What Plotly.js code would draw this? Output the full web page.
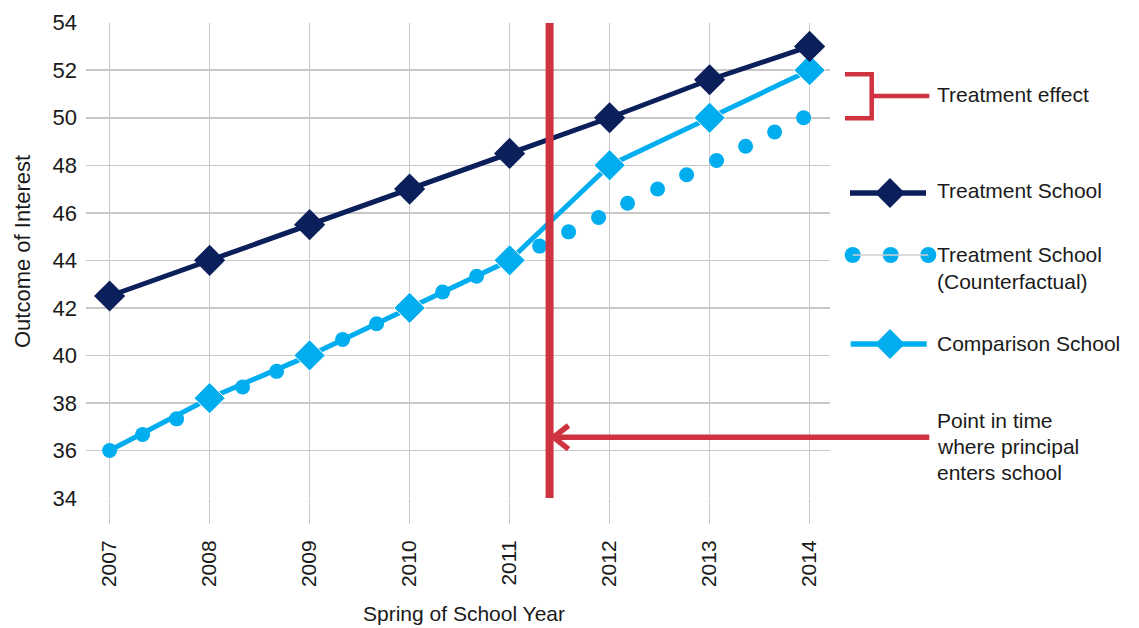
<!DOCTYPE html>
<html>
<head>
<meta charset="utf-8">
<script src="https://cdn.plot.ly/plotly-3.0.1.min.js"></script>
<style>html,body{margin:0;padding:0;background:#fff;}#chart{width:1139px;height:628px;}</style>
</head>
<body>
<div id="chart"></div>
<script>
// ---- data ----
const years = [2007, 2008, 2009, 2010, 2011, 2012, 2013, 2014];
const yearLabels = ['2007', '2008', '2009', '2010', '2011', '2012', '2013', '2014'];
const treatmentSchool = [42.5, 44, 45.5, 47, 48.5, 50, 51.6, 53];
const comparisonSchool = [36, 38.2, 40, 42, 44, 48, 50, 52];
const counterfactualYears = [2007, 2007.33, 2007.67, 2008, 2008.33, 2008.67, 2009, 2009.33, 2009.67,
  2010, 2010.33, 2010.67, 2011, 2011.3, 2011.59, 2011.89, 2012.18, 2012.48, 2012.77, 2013.07,
  2013.36, 2013.65, 2013.94];
const counterfactualValues = [36, 36.67, 37.33, 38, 38.67, 39.33, 40, 40.67, 41.33,
  42, 42.67, 43.33, 44, 44.6, 45.2, 45.8, 46.4, 47.0, 47.6, 48.2,
  48.8, 49.4, 50.0];
const yTicks = [34, 36, 38, 40, 42, 44, 46, 48, 50, 52, 54];
const principalEntry = 2011.4;
const labels = {
  treat: 'Treatment School',
  cf1: 'Treatment School',
  cf2: '(Counterfactual)',
  comp: 'Comparison School',
  effect: 'Treatment effect',
  point: ['Point in time', 'where principal', 'enters school'],
  xTitle: 'Spring of School Year',
  yTitle: 'Outcome of Interest'
};

// ---- styling / geometry ----
const W = 1139, H = 628;
const L = 86, R = 830, T = 22.7, B = 498;
const x2007px = 109.6, pxPerYear = 100;
const NAVY = '#0b1f5a', CYAN = '#00aeef', RED = '#cf3340', GRID = '#c8c8c8', TXT = '#1a1a1a';
const NARROW = 'Liberation Sans, Arial, sans-serif';
const REG = 'Liberation Sans, Arial, sans-serif';

const traces = [
  {
    x: counterfactualYears, y: counterfactualValues, type: 'scatter', mode: 'markers',
    marker: { color: CYAN, size: 15, symbol: 'circle', opacity: 1 }, xaxis: 'x', yaxis: 'y',
    cliponaxis: false, hoverinfo: 'skip'
  },
  {
    x: years, y: comparisonSchool, type: 'scatter', mode: 'lines+markers',
    line: { color: CYAN, width: 5 },
    marker: { color: CYAN, size: years.map((v, i) => i === 0 ? 0 : 24), symbol: 'diamond', opacity: 1 },
    xaxis: 'x', yaxis: 'y', cliponaxis: false, hoverinfo: 'skip'
  },
  {
    x: years, y: treatmentSchool, type: 'scatter', mode: 'lines+markers',
    line: { color: NAVY, width: 5 },
    marker: { color: NAVY, size: 24, symbol: 'diamond', opacity: 1 },
    xaxis: 'x', yaxis: 'y', cliponaxis: false, hoverinfo: 'skip'
  },
  // legend samples (pixel space overlay)
  {
    x: [890], y: [193], type: 'scatter', mode: 'markers',
    marker: { color: NAVY, size: 23, symbol: 'diamond', opacity: 1 }, xaxis: 'x2', yaxis: 'y2', hoverinfo: 'skip', cliponaxis: false
  },
  {
    x: [852.7, 890.7, 928.3], y: [255, 255, 255], type: 'scatter', mode: 'markers',
    marker: { color: CYAN, size: 16, symbol: 'circle', opacity: 1 }, xaxis: 'x2', yaxis: 'y2', hoverinfo: 'skip', cliponaxis: false
  },
  {
    x: [890], y: [344], type: 'scatter', mode: 'markers',
    marker: { color: CYAN, size: 23, symbol: 'diamond', opacity: 1 }, xaxis: 'x2', yaxis: 'y2', hoverinfo: 'skip', cliponaxis: false
  }
];

function pxLine(x0, y0, x1, y1, color, width) {
  return { type: 'line', xref: 'x2', yref: 'y2', x0, y0, x1, y1, line: { color, width }, layer: 'above' };
}

const shapes = [
  // principal entry line
  { type: 'line', xref: 'x', yref: 'y', x0: principalEntry, x1: principalEntry, y0: 34, y1: 54,
    line: { color: RED, width: 8 }, layer: 'above' },
  // arrow
  pxLine(553, 437.3, 929.3, 437.3, RED, 5.5),
  { type: 'path', xref: 'x2', yref: 'y2', path: 'M568.5,425.5 L553.5,437.3 L568.5,449.1',
    line: { color: RED, width: 5.5 }, layer: 'above' },
  // bracket
  { type: 'path', xref: 'x2', yref: 'y2', path: 'M845,74.3 L871.7,74.3 L871.7,118.3 L845,118.3',
    line: { color: RED, width: 4.5 }, layer: 'above' },
  pxLine(871.7, 96, 929.3, 96, RED, 4.5),
  // legend lines
  pxLine(850, 193, 926, 193, NAVY, 5.5),
  pxLine(852.7, 255, 928.3, 255, '#d0d0d0', 1.5),
  pxLine(850.7, 344, 926.7, 344, CYAN, 5.5)
];

function txt(text, x, y, opts) {
  return Object.assign({
    text, x, y, xref: 'x2', yref: 'y2', showarrow: false, xanchor: 'left', yanchor: 'middle',
    font: { family: NARROW, size: 21, color: TXT }
  }, opts || {});
}

const annotations = [
  txt(labels.effect, 935, 94),
  txt(labels.treat, 935, 190),
  txt(labels.cf1, 935, 254),
  txt(labels.cf2, 935, 281),
  txt(labels.comp, 935, 343),
  txt(labels.point[0], 935, 420),
  txt(labels.point[1], 935, 446.5),
  txt(labels.point[2], 935, 472),
  txt(labels.xTitle, 464, 613, { xanchor: 'center', font: { family: NARROW, size: 21, color: TXT } }),
  txt(labels.yTitle, 22, 252, { xanchor: 'center', textangle: -90, font: { family: NARROW, size: 22, color: TXT } })
];

const layout = {
  width: W, height: H,
  margin: { l: 0, r: 0, t: 0, b: 0 },
  paper_bgcolor: '#ffffff', plot_bgcolor: 'rgba(0,0,0,0)',
  showlegend: false,
  xaxis: {
    domain: [L / W, R / W],
    range: [2007 - (x2007px - L) / pxPerYear, 2007 + (R - x2007px) / pxPerYear],
    tickvals: years, ticktext: yearLabels, tickangle: -90,
    ticks: 'outside', ticklen: 25, tickcolor: GRID, tickwidth: 1.5,
    showgrid: true, gridcolor: GRID, gridwidth: 1.5, zeroline: false, showline: false,
    tickfont: { family: REG, size: 21, color: TXT }, ticklabelstandoff: 8,
    anchor: 'y', fixedrange: true
  },
  yaxis: {
    domain: [(H - B) / H, (H - T) / H],
    range: [34, 54], tickvals: yTicks, ticks: '',
    showgrid: true, gridcolor: GRID, gridwidth: 1.5, zeroline: false, showline: false,
    tickfont: { family: REG, size: 22, color: TXT }, ticklabelstandoff: 8,
    anchor: 'x', fixedrange: true
  },
  xaxis2: { domain: [0, 1], range: [0, W], visible: false, anchor: 'y2', fixedrange: true },
  yaxis2: { domain: [0, 1], range: [H, 0], visible: false, anchor: 'x2', fixedrange: true },
  shapes, annotations
};

Plotly.newPlot('chart', traces, layout, { staticPlot: true, displayModeBar: false });
</script>
</body>
</html>
